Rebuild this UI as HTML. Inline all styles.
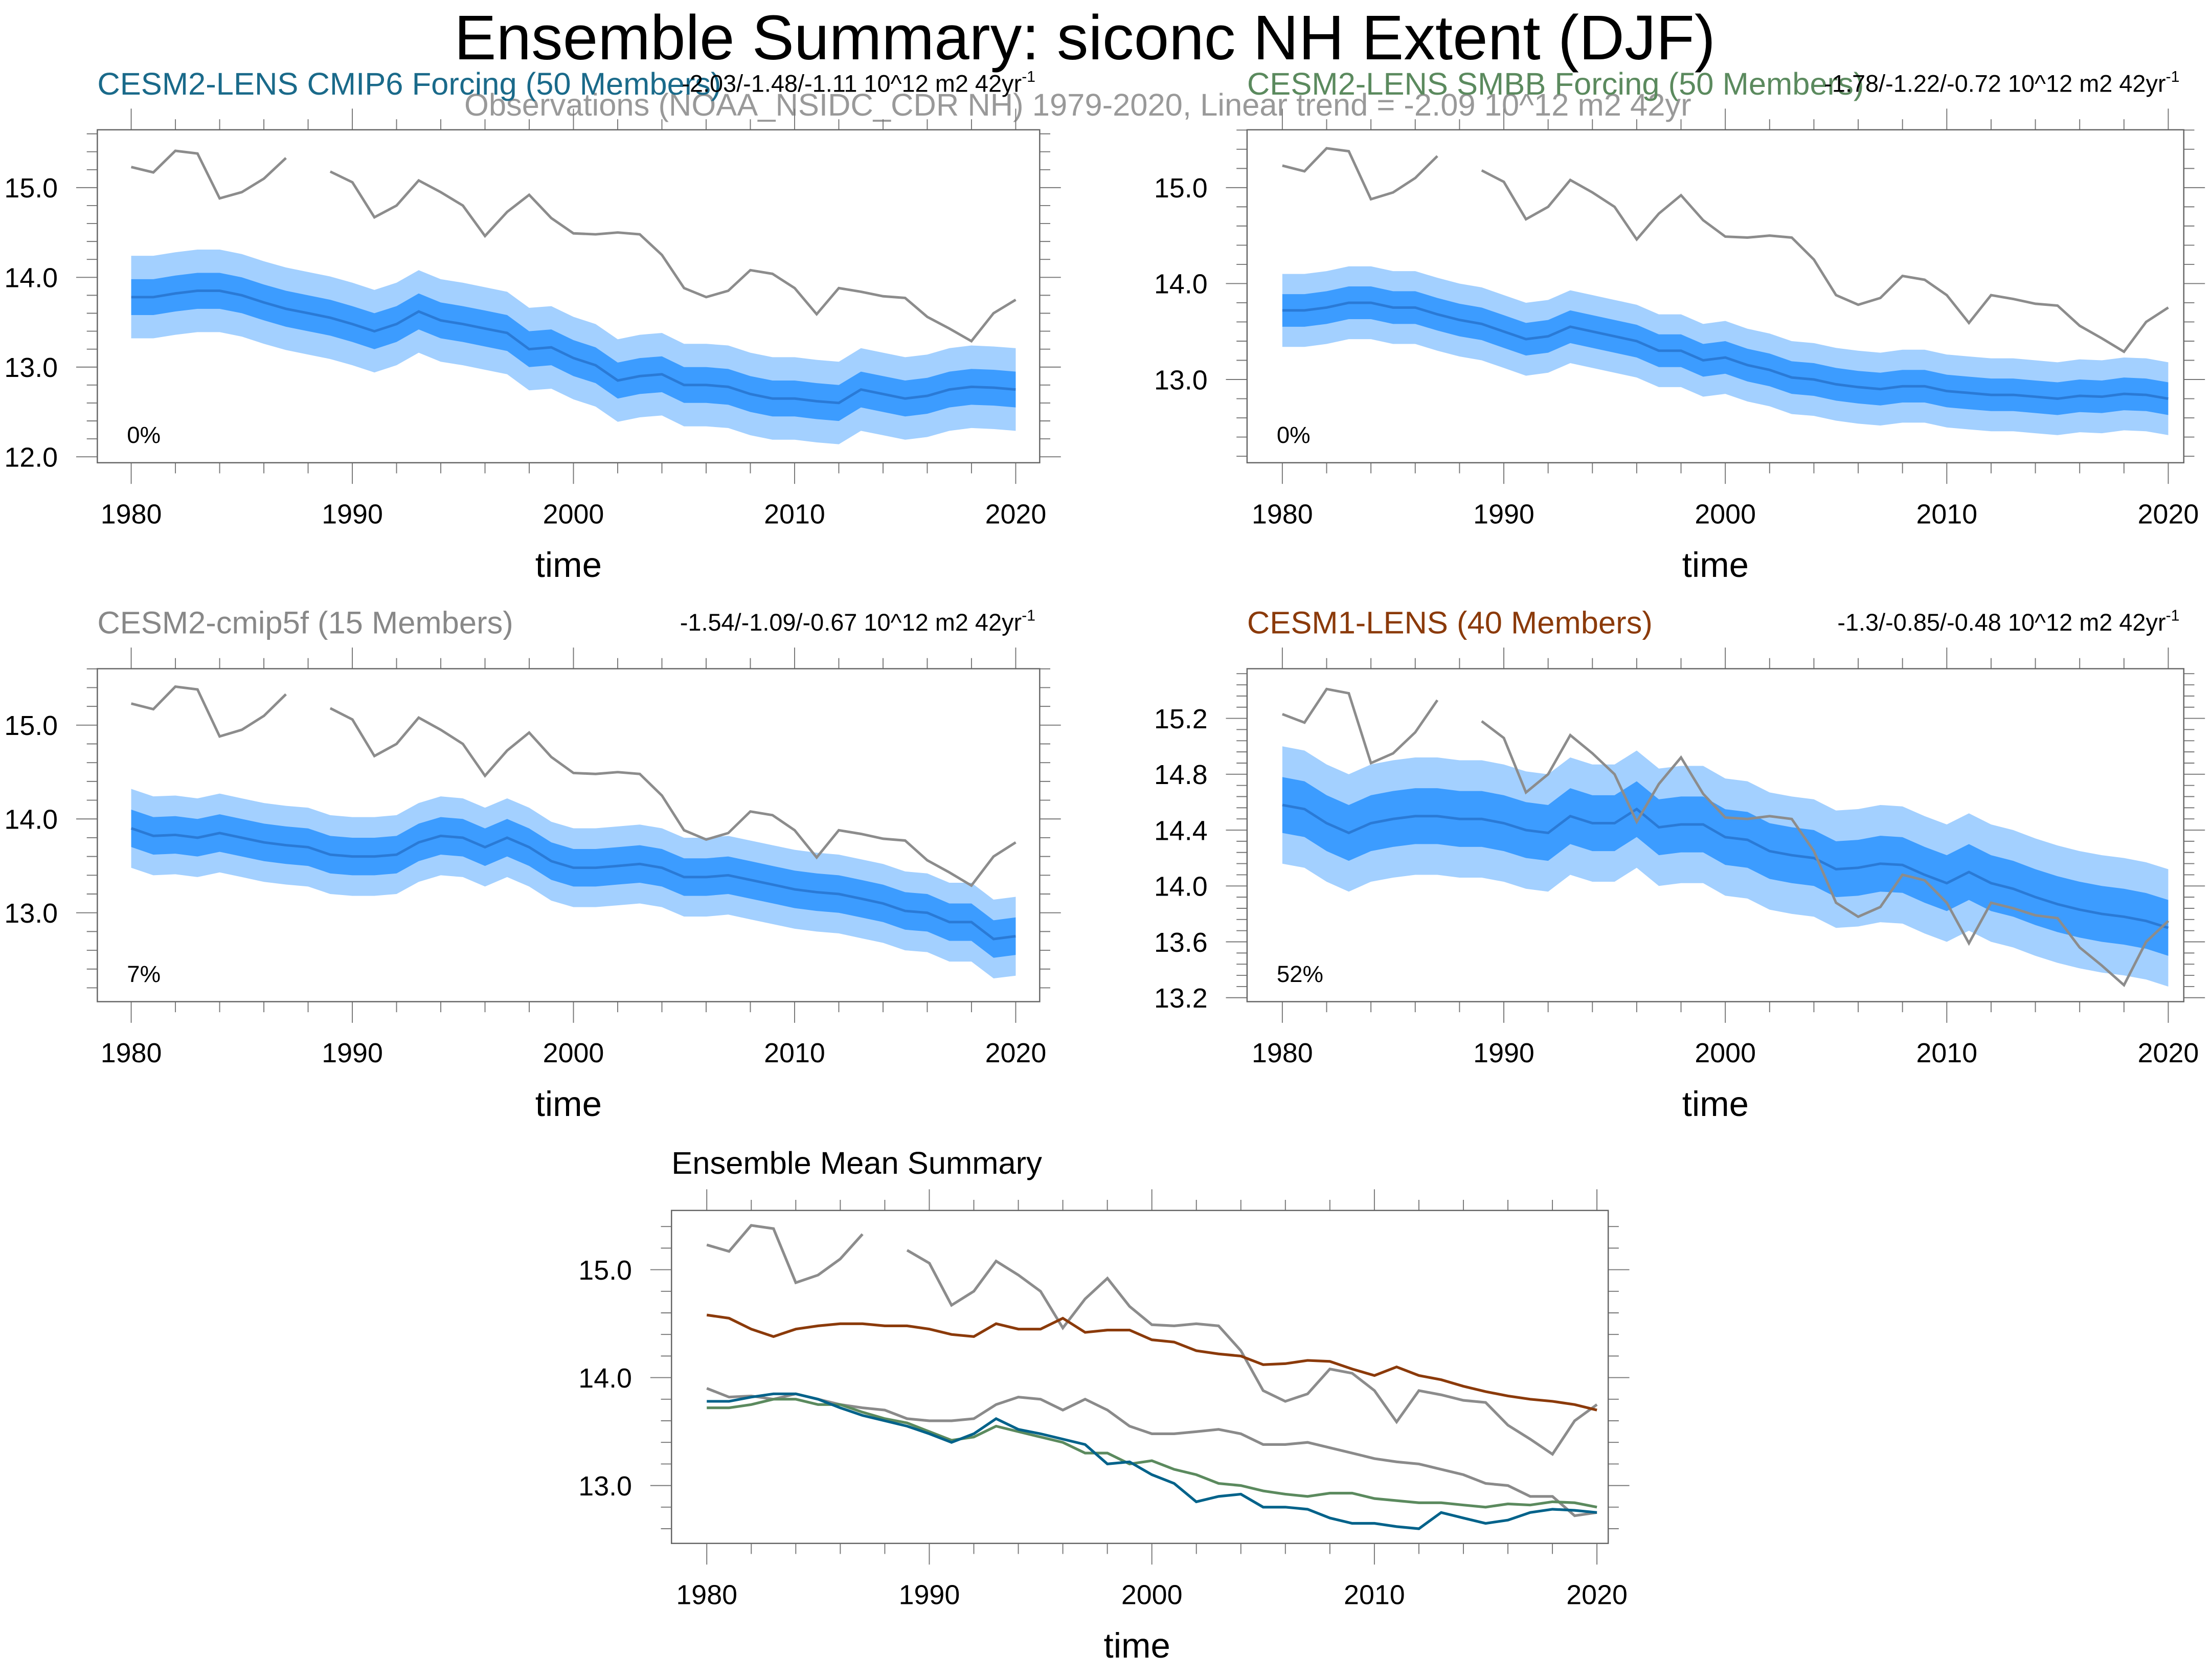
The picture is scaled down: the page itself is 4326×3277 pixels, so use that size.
<!DOCTYPE html>
<html><head><meta charset="utf-8"><style>html,body{margin:0;padding:0;background:#fff}svg{display:block}text{font-family:"Liberation Sans",sans-serif}</style></head>
<body>
<svg id="c" xmlns="http://www.w3.org/2000/svg" width="4326" height="3277" viewBox="0 0 1568 1188" preserveAspectRatio="none">
<rect width="1568" height="1188" fill="#fff"/>
<text x="769" y="42" font-size="44.7" text-anchor="middle">Ensemble Summary: siconc NH Extent (DJF)</text>
<text x="764" y="82" font-size="22.3" fill="#999" text-anchor="middle">Observations (NOAA_NSIDC_CDR NH) 1979-2020, Linear trend = -2.09 10^12 m2 42yr</text>
</svg>
<script>
const years=[];for(let y=1980;y<=2020;y++)years.push(y);
const obsValues=[15.23,15.17,15.41,15.38,14.88,14.95,15.10,15.33,null,15.18,15.06,14.67,14.80,15.08,14.95,14.80,14.46,14.73,14.92,14.66,14.49,14.48,14.50,14.48,14.25,13.88,13.78,13.85,14.08,14.04,13.88,13.59,13.88,13.84,13.79,13.77,13.56,13.43,13.29,13.60,13.75];
const cmip6Mean=[13.78,13.78,13.82,13.85,13.85,13.80,13.72,13.65,13.60,13.55,13.48,13.40,13.48,13.62,13.52,13.48,13.43,13.38,13.20,13.22,13.10,13.02,12.85,12.90,12.92,12.80,12.80,12.78,12.70,12.65,12.65,12.62,12.60,12.75,12.70,12.65,12.68,12.75,12.78,12.77,12.75];
const smbbMean=[13.72,13.72,13.75,13.80,13.80,13.75,13.75,13.68,13.62,13.58,13.50,13.42,13.45,13.55,13.50,13.45,13.40,13.30,13.30,13.20,13.23,13.15,13.10,13.02,13.00,12.95,12.92,12.90,12.93,12.93,12.88,12.86,12.84,12.84,12.82,12.80,12.83,12.82,12.85,12.84,12.80];
const cmip5Mean=[13.90,13.82,13.83,13.80,13.85,13.80,13.75,13.72,13.70,13.62,13.60,13.60,13.62,13.75,13.82,13.80,13.70,13.80,13.70,13.55,13.48,13.48,13.50,13.52,13.48,13.38,13.38,13.40,13.35,13.30,13.25,13.22,13.20,13.15,13.10,13.02,13.00,12.90,12.90,12.72,12.75];
const cesm1Mean=[14.58,14.55,14.45,14.38,14.45,14.48,14.50,14.50,14.48,14.48,14.45,14.40,14.38,14.50,14.45,14.45,14.55,14.42,14.44,14.44,14.35,14.33,14.25,14.22,14.20,14.12,14.13,14.16,14.15,14.08,14.02,14.10,14.02,13.98,13.92,13.87,13.83,13.80,13.78,13.75,13.70];
const innerSpread=[0.2,0.17,0.2,0.2];
const outerSpread=[0.46,0.38,0.42,0.42];
const xTicks=[1980,1990,2000,2010,2020];
const yTicks1=["12.0","13.0","14.0","15.0"];
const yTicks3=["13.0","14.0","15.0"];
const yTicks4=["13.2","13.6","14.0","14.4","14.8","15.2"];

const NS="http://www.w3.org/2000/svg",svg=document.getElementById('c');
function el(t,a,p){const e=document.createElementNS(NS,t);for(const k in a)e.setAttribute(k,a[k]);(p||svg).appendChild(e);return e;}
function mk(x0,x1,yv0,py0,ppu){return{x:y=>x0+(y-1980)*(x1-x0)/40,y:v=>py0-(v-yv0)*ppu};}
function path(sx,sy,vals){let d="",pen=false;vals.forEach((v,i)=>{if(v==null){pen=false;return;}d+=(pen?"L":"M")+sx(years[i]).toFixed(1)+","+sy(v).toFixed(1);pen=true;});return d;}
function band(sx,sy,mean,s){let d="";mean.forEach((v,i)=>{d+=(i?"L":"M")+sx(years[i]).toFixed(1)+","+sy(v+s).toFixed(1);});for(let i=mean.length-1;i>=0;i--)d+="L"+sx(years[i]).toFixed(1)+","+sy(mean[i]-s).toFixed(1);return d+"Z";}
function axes(g,bx,by,bw,bh,sc,yt,name){
 let t="";
 for(let y=1978;y<=2020;y+=2){const x=sc.x(y);if(x<bx||x>bx+bw)continue;const L=(y%10==0)?15:7.5;t+=`M${x},${by+bh}v${L}M${x},${by}v${-L}`;}
 const y0=parseFloat(yt[0]),step=parseFloat(yt[1])-y0;
 for(let v=y0-step;v<=parseFloat(yt[yt.length-1])+step*1.01;v+=step/5){const py=sc.y(v);if(py<by||py>by+bh)continue;const maj=Math.abs((v-y0)/step-Math.round((v-y0)/step))<0.01;const L=maj?15:7.5;t+=`M${bx},${py}h${-L}M${bx+bw},${py}h${L}`;}
 el('path',{d:t,stroke:'#777','stroke-width':0.7,fill:'none'},g);
 el('rect',{x:bx,y:by,width:bw,height:bh,fill:'none',stroke:'#666','stroke-width':0.9},g);
 xTicks.forEach(y=>{const e=el('text',{x:sc.x(y),y:by+bh+43,'font-size':19.5,'text-anchor':'middle'},g);e.textContent=y;});
 yt.forEach(s=>{const e=el('text',{x:bx-28,y:sc.y(parseFloat(s))+7,'font-size':19.5,'text-anchor':'end'},g);e.textContent=s;});
 const tt=el('text',{x:bx+bw/2-(name=='p5'?2:0),y:by+bh+81,'font-size':25,'text-anchor':'middle'},g);tt.textContent='time';
 
}
const panels=[
 {id:'cmip6',bx:69,by:92,bw:668,x0:93,x1:720,yv:15,py:133,ppu:63.6,mean:cmip6Mean,yt:yTicks1,title:'CESM2-LENS CMIP6 Forcing (50 Members)',col:'#1a6a8a',trend:'-2.03/-1.48/-1.11 10^12 m2 42yr',pct:'0%'},
 {id:'smbb',bx:884,by:92,bw:664,x0:909,x1:1537,yv:15,py:133,ppu:68,mean:smbbMean,yt:yTicks3,title:'CESM2-LENS SMBB Forcing (50 Members)',col:'#5b8a5e',trend:'-1.78/-1.22/-0.72 10^12 m2 42yr',pct:'0%'},
 {id:'cmip5f',bx:69,by:474,bw:668,x0:93,x1:720,yv:15,py:514,ppu:66.5,mean:cmip5Mean,yt:yTicks3,title:'CESM2-cmip5f (15 Members)',col:'#888',trend:'-1.54/-1.09/-0.67 10^12 m2 42yr',pct:'7%'},
 {id:'cesm1',bx:884,by:474,bw:664,x0:909,x1:1537,yv:14,py:628,ppu:99,mean:cesm1Mean,yt:yTicks4,title:'CESM1-LENS (40 Members)',col:'#8b3a0a',trend:'-1.3/-0.85/-0.48 10^12 m2 42yr',pct:'52%'}];
panels.forEach((p,i)=>{
 const g=el('g',{});
 const sc=mk(p.x0,p.x1,p.yv,p.py,p.ppu);
 const cid='clip'+i;const cp=el('clipPath',{id:cid},g);el('rect',{x:p.bx,y:p.by,width:p.bw,height:236},cp);
 const gg=el('g',{'clip-path':`url(#${cid})`},g);
 const b1=el('path',{d:band(sc.x,sc.y,p.mean,outerSpread[i]),fill:'#a3d0ff'},gg);
 const b2=el('path',{d:band(sc.x,sc.y,p.mean,innerSpread[i]),fill:'#3c9cff'},gg);
 const m=el('path',{d:path(sc.x,sc.y,p.mean),fill:'none',stroke:'#2a7ad6','stroke-width':1.8},gg);
 const o=el('path',{d:path(sc.x,sc.y,obsValues),fill:'none',stroke:'#8c8c8c','stroke-width':1.8},gg);
 axes(g,p.bx,p.by,p.bw,236,sc,p.yt,p.id);
 const t=el('text',{x:p.bx,y:p.by-25,'font-size':22.3,fill:p.col},g);t.textContent=p.title;
 const tr=el('text',{x:p.bx+p.bw-3,y:p.by-27,'font-size':17,'text-anchor':'end'},g);tr.textContent=p.trend;
 const sp=el('tspan',{'font-size':11,dy:-7},tr);sp.textContent='-1';
 
 const pc=el('text',{x:p.bx+21,y:p.by+222,'font-size':16.5},g);pc.textContent=p.pct;
});
(function(){
 const g=el('g',{});
 const sc=mk(501,1132,15,900,76.5);
 const series=[[obsValues,'#8c8c8c','observations'],[cesm1Mean,'#8b3a0a','cesm1-lens'],[cmip5Mean,'#8a8a8a','cesm2-cmip5f'],[smbbMean,'#5b8a5e','cesm2-smbb'],[cmip6Mean,'#00628a','cesm2-cmip6']];
 series.forEach(s=>{const e=el('path',{d:path(sc.x,sc.y,s[0]),fill:'none',stroke:s[1],'stroke-width':1.9},g);});
 axes(g,476,858,664,236,sc,yTicks3,'p5');
 const t=el('text',{x:476,y:832,'font-size':22.3},g);t.textContent='Ensemble Mean Summary';
})();
</script>
</body></html>
